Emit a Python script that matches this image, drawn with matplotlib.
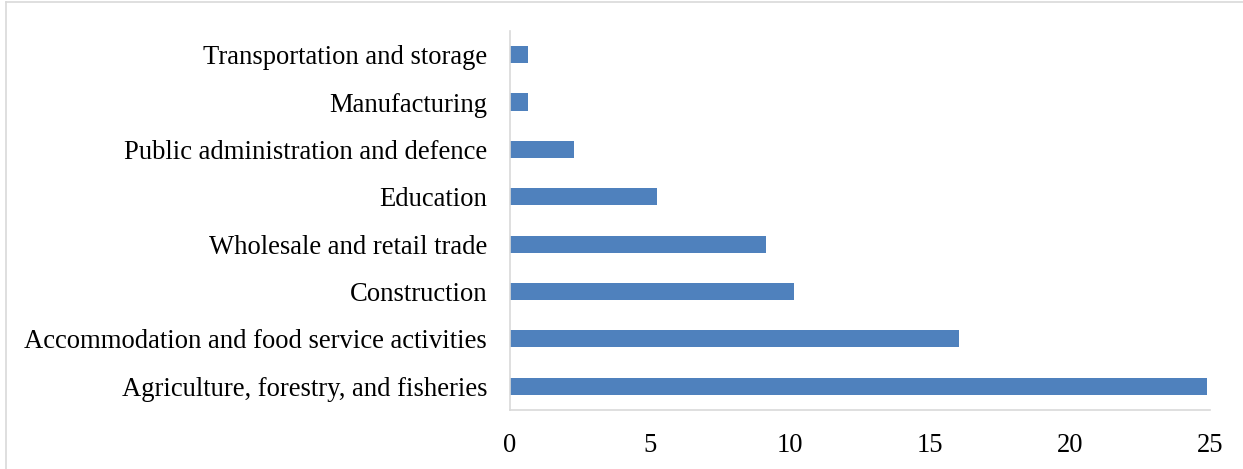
import matplotlib.pyplot as plt
from matplotlib.lines import Line2D

categories = [
    "Agriculture, forestry, and fisheries",
    "Accommodation and food service activities",
    "Construction",
    "Wholesale and retail trade",
    "Education",
    "Public administration and defence",
    "Manufacturing",
    "Transportation and storage",
]
values = [24.9, 16.05, 10.15, 9.15, 5.25, 2.3, 0.65, 0.65]
xticks = [0, 5, 10, 15, 20, 25]

plt.rcParams["font.family"] = ["Liberation Serif", "DejaVu Serif"]

fig = plt.figure(figsize=(12.43, 4.69), dpi=100)
ax = fig.add_axes([0.4103, 0.1258, 0.5632, 0.8082])

ax.barh(range(len(categories)), values, height=0.36, color="#4f81bd")
ax.set_yticks(range(len(categories)))
ax.set_yticklabels(categories, fontsize=19.2)
ax.set_xticks(xticks)
ax.set_xticklabels([str(t) for t in xticks], fontsize=19.2)
ax.set_xlim(0, 25)
ax.set_ylim(-0.5, len(categories) - 0.5)
ax.tick_params(axis="both", length=0)
ax.tick_params(axis="y", pad=16.5)
ax.tick_params(axis="x", pad=16.5)

for side in ["top", "right"]:
    ax.spines[side].set_visible(False)
for side in ["left", "bottom"]:
    ax.spines[side].set_color("#d9d9d9")
    ax.spines[side].set_linewidth(1.2)

# light frame around the chart area (top and left visible)
fig.add_artist(Line2D([0.0045, 1.0], [0.995, 0.995], transform=fig.transFigure, color="#d9d9d9", lw=1.2))
fig.add_artist(Line2D([0.0045, 0.0045], [0.0, 0.995], transform=fig.transFigure, color="#d9d9d9", lw=1.2))

fig.savefig("out.png", dpi=100)
